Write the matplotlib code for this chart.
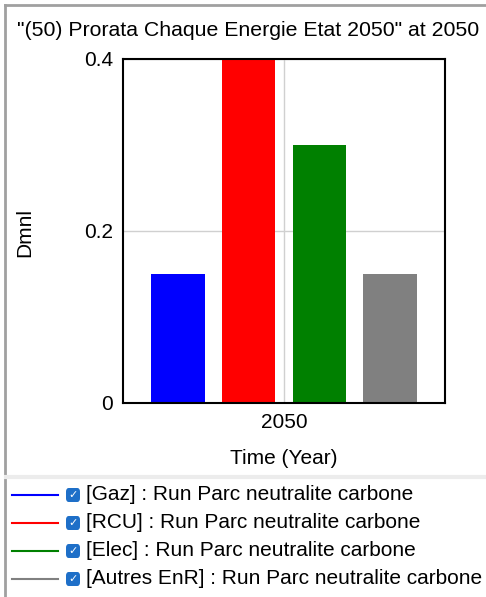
import matplotlib.pyplot as plt
from matplotlib.patches import FancyBboxPatch
from matplotlib.lines import Line2D

plt.rcParams['font.family'] = ['Liberation Sans', 'DejaVu Sans']

# data
categories = ['Gaz', 'RCU', 'Elec', 'Autres EnR']
values = [0.15, 0.4, 0.3, 0.15]
colors = ['#0000ff', '#ff0000', '#008000', '#808080']
offsets = [-1.5, -0.5, 0.5, 1.5]
run_name = 'Run Parc neutralite carbone'

W, H = 486, 597
fig = plt.figure(figsize=(W/100, H/100), dpi=100)

def fx(px): return px / W
def fy(py): return 1 - py / H

ax = fig.add_axes([fx(123), fy(403), fx(445) - fx(123), fy(59) - fy(403)])
ax.bar(offsets, values, width=0.76, color=colors, zorder=2)
ax.set_xlim(-2.27, 2.27)
ax.set_ylim(0, 0.4)
ax.set_yticks([0, 0.2, 0.4])
ax.set_yticklabels(['0', '0.2', '0.4'])
ax.set_xticks([0])
ax.set_xticklabels(['2050'])
ax.tick_params(length=0, labelsize=15, pad=7)
ax.grid(True, color='#d0d0d0', linewidth=1, zorder=0)
for s in ax.spines.values():
    s.set_linewidth(1.5)

fig.text(fx(284), fy(458), 'Time (Year)', ha='center', va='center', fontsize=15)
fig.text(fx(25), fy(232), 'Dmnl', ha='center', va='center', fontsize=15, rotation=90)
fig.text(fx(248), fy(30), '"(50) Prorata Chaque Energie Etat 2050" at 2050',
         ha='center', va='center', fontsize=15.3)

# window frame
fig.add_artist(Line2D([fx(5), fx(5)], [0, fy(5)], color='#a0a0a0', lw=2))
fig.add_artist(Line2D([fx(5), 1], [fy(5), fy(5)], color='#a0a0a0', lw=2))
fig.add_artist(Line2D([fx(6), 1], [fy(477), fy(477)], color='#ececec', lw=3))

# legend
rows = [495, 523, 551, 579]
for cat, c, y in zip(categories, colors, rows):
    fig.add_artist(Line2D([fx(12), fx(58)], [fy(y), fy(y)], color=c, lw=1.5))
    box = FancyBboxPatch((fx(66), fy(y + 7)), fx(14), 14 / H,
                         boxstyle='round,pad=0,rounding_size=0.006',
                         transform=fig.transFigure, facecolor='#1e6fc8', edgecolor='none')
    fig.add_artist(box)
    fig.text(fx(73), fy(y), '✓', color='white', fontsize=8, ha='center', va='center',
             family='DejaVu Sans', fontweight='bold')
    fig.text(fx(86), fy(y), f'[{cat}] : {run_name}', fontsize=15, ha='left', va='center')

fig.savefig('out.png', dpi=100)
